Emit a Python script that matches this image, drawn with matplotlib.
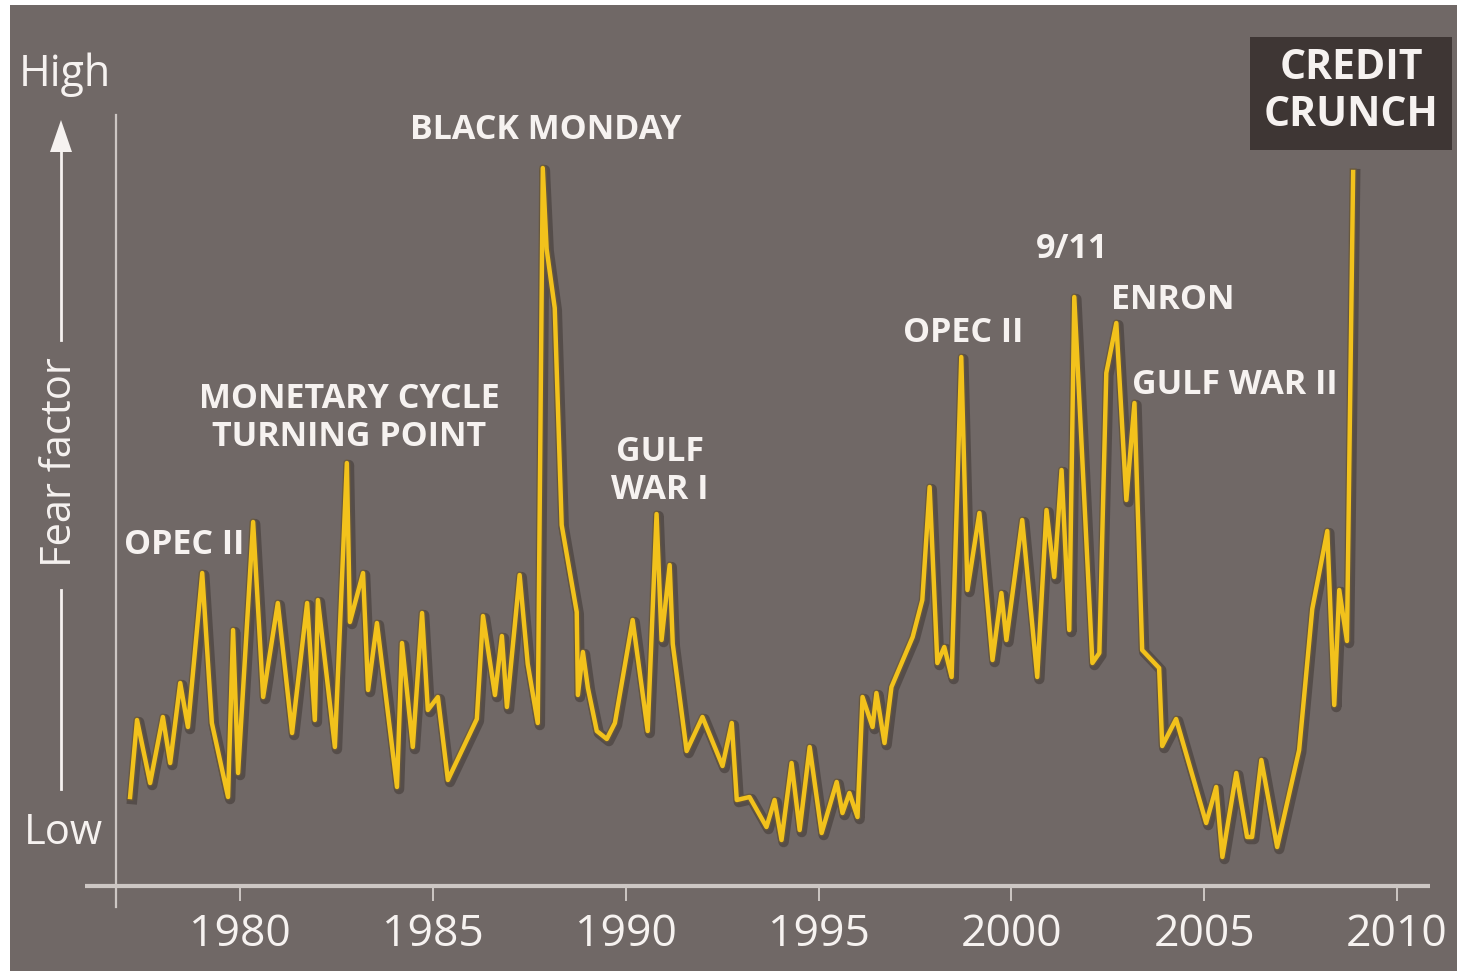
import matplotlib
matplotlib.use("Agg")
import matplotlib.pyplot as plt
import matplotlib.patheffects as pe
from matplotlib.patches import Rectangle
from matplotlib.lines import Line2D

# fear index, arbitrary units
years = [1977.15, 1977.33, 1977.67, 1978.00, 1978.19, 1978.45, 1978.65, 1979.02, 1979.27, 1979.69,
         1979.82, 1979.95, 1980.34, 1980.60, 1980.98, 1981.35, 1981.74, 1981.94, 1982.02, 1982.46,
         1982.77, 1982.85, 1983.19, 1983.32, 1983.55, 1984.07, 1984.20, 1984.48, 1984.72, 1984.87,
         1985.13, 1985.39, 1986.14, 1986.30, 1986.61, 1986.79, 1986.92, 1987.25, 1987.46, 1987.72,
         1987.85, 1987.95, 1988.16, 1988.34, 1988.73, 1988.76, 1988.89, 1989.02, 1989.25, 1989.51,
         1989.72, 1990.18, 1990.57, 1990.80, 1990.93, 1991.14, 1991.22, 1991.58, 1991.99, 1992.51,
         1992.75, 1992.88, 1993.21, 1993.65, 1993.86, 1994.04, 1994.30, 1994.51, 1994.77, 1995.08,
         1995.47, 1995.62, 1995.80, 1996.01, 1996.14, 1996.40, 1996.50, 1996.71, 1996.89, 1997.44,
         1997.69, 1997.88, 1998.08, 1998.26, 1998.45, 1998.70, 1998.86, 1999.17, 1999.51, 1999.74,
         1999.87, 2000.28, 2000.67, 2000.91, 2001.11, 2001.30, 2001.50, 2001.63, 2002.10, 2002.28,
         2002.46, 2002.72, 2002.98, 2003.19, 2003.39, 2003.83, 2003.91, 2004.27, 2005.05, 2005.31,
         2005.47, 2005.83, 2006.11, 2006.24, 2006.48, 2006.89, 2007.46, 2007.80, 2008.19, 2008.37,
         2008.50, 2008.70, 2008.86]
fear = [89, 166, 103, 169, 123, 203, 159, 313, 163, 89,
        256, 113, 364, 189, 283, 153, 283, 166, 286, 139,
        423, 264, 313, 196, 263, 99, 243, 139, 273, 176,
        189, 106, 167, 270, 191, 250, 179, 311, 222, 163,
        718, 637, 578, 361, 274, 191, 234, 198, 155, 147,
        163, 266, 155, 372, 246, 321, 242, 135, 169, 120,
        163, 86, 89, 59, 86, 46, 123, 56, 139, 53,
        104, 73, 93, 69, 189, 159, 193, 143, 199, 249,
        286, 399, 223, 239, 209, 529, 296, 373, 226, 293,
        246, 366, 209, 376, 309, 416, 256, 589, 223, 233,
        513, 563, 386, 483, 236, 218, 140, 167, 63, 99,
        29, 113, 49, 49, 126, 39, 136, 277, 355, 181,
        296, 245, 714]

tick_years = [1980, 1985, 1990, 1995, 2000, 2005, 2010]

events = ["OPEC II", "MONETARY CYCLE\nTURNING POINT", "BLACK MONDAY", "GULF\nWAR I",
          "OPEC II", "9/11", "ENRON", "GULF WAR II"]
event_x = [1978.55, 1982.83, 1987.93, 1990.89, 1998.75, 2001.57, 2004.19, 2005.80]
event_y = [341, 468, 756, 415, 553, 637, 586, 501]

BG = "#706866"
TXT = "#f6f2f0"
AXC = "#cdc7c4"
LINE = "#f2c21c"
FONT = "Open Sans"

fig = plt.figure(figsize=(14.57, 9.76), dpi=100, facecolor="white")
fig.patches.append(Rectangle((10 / 1457, 5 / 976), 1447 / 1457, 966 / 976,
                             transform=fig.transFigure, facecolor=BG, edgecolor="none", zorder=-10))

ax = fig.add_axes([116 / 1457, 90 / 976, 1314 / 1457, 771 / 976])
ax.set_facecolor("none")
ax.set_xlim(1976.785, 2010.853)
ax.set_ylim(0, 771)
for s in ax.spines.values():
    s.set_visible(False)

# axis lines
ax.plot([1975.98, 2010.853], [0, 0], color=AXC, lw=3, clip_on=False, solid_capstyle="butt")
ax.plot([1976.785, 1976.785], [-21, 771], color=AXC, lw=1.6, clip_on=False)

ax.set_xticks(tick_years)
ax.set_xticklabels([str(t) for t in tick_years], fontsize=32, color=TXT, family=FONT)
ax.tick_params(axis="x", direction="out", length=11, width=1.4, color=AXC, pad=8)
ax.set_yticks([])

ax.plot(years, fear, color=LINE, lw=3.2, solid_joinstyle="round", zorder=3,
        path_effects=[pe.SimpleLineShadow(offset=(1.5, -1.5), shadow_color="#2e2622", alpha=0.4, linewidth=7.5),
                      pe.Stroke(linewidth=5.2, foreground="#6b5a3a", alpha=0.75),
                      pe.Normal()])

for label, x, y in zip(events, event_x, event_y):
    ax.text(x, y, label, ha="center", va="center", fontsize=24.5, fontweight="bold",
            color=TXT, family=FONT, linespacing=1.12, zorder=4)

# left side "fear factor" axis
fig.text(65 / 1457, 1 - 75 / 976, "High", ha="center", va="center", fontsize=31, color=TXT, family=FONT)
fig.text(63 / 1457, 1 - 833 / 976, "Low", ha="center", va="center", fontsize=30, color=TXT, family=FONT)
fig.text(60 / 1457, 1 - 462 / 976, "Fear factor", ha="center", va="center", rotation=90,
         fontsize=30, color=TXT, family=FONT)
fig.add_artist(Line2D([61 / 1457, 61 / 1457], [1 - 789 / 976, 1 - 590 / 976], color=TXT, lw=2))
fig.add_artist(Line2D([61 / 1457, 61 / 1457], [1 - 340 / 976, 1 - 150 / 976], color=TXT, lw=2))
fig.add_artist(plt.Polygon([[50 / 1457, 1 - 152 / 976], [72 / 1457, 1 - 152 / 976], [61 / 1457, 1 - 120 / 976]],
                           closed=True, facecolor=TXT, edgecolor="none", transform=fig.transFigure))

# credit crunch box
fig.patches.append(Rectangle((1250 / 1457, 1 - 150 / 976), 202 / 1457, 113 / 976,
                             transform=fig.transFigure, facecolor="#3e3634", edgecolor="none", zorder=1))
fig.text(1351 / 1457, 1 - 92 / 976, "CREDIT\nCRUNCH", ha="center", va="center", fontsize=29.5,
         fontweight="bold", color=TXT, family=FONT, linespacing=1.2)

fig.savefig("out.png", dpi=100, facecolor="white")
